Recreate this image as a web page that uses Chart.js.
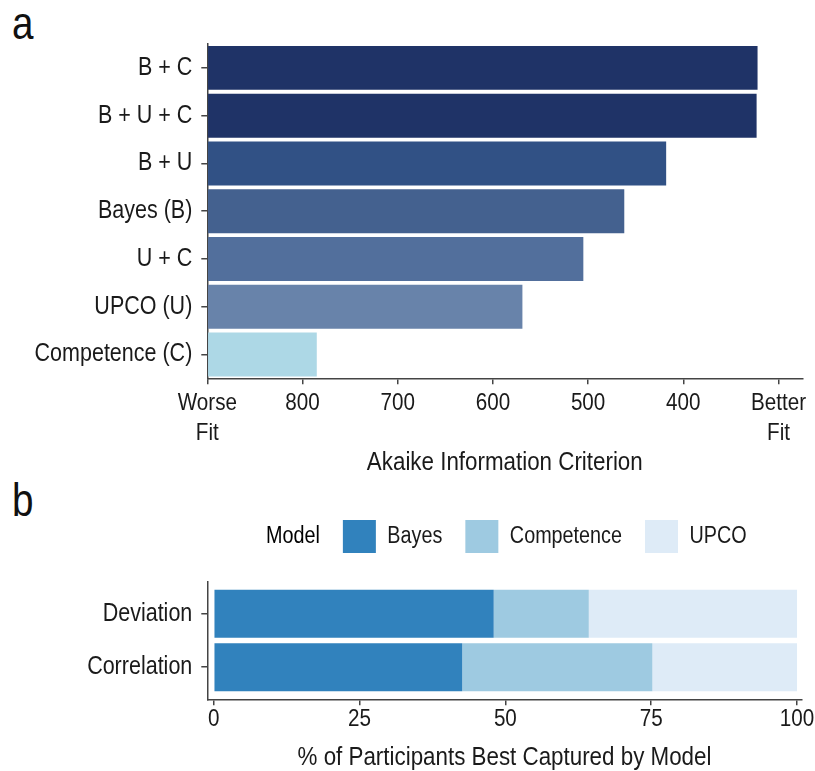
<!DOCTYPE html>
<html>
<head>
<meta charset="utf-8">
<script src="https://cdn.jsdelivr.net/npm/chart.js@4.4.1/dist/chart.umd.min.js"></script>
<style>
  html, body { margin: 0; padding: 0; background: #fff; }
  #page { position: relative; width: 815px; height: 771px; overflow: hidden; }
  .panel-letter {
    position: absolute; left: 12px; margin: 0;
    font-family: 'Liberation Sans', sans-serif;
    font-size: 46px; line-height: 46px; color: #111;
    transform: scaleX(0.84); transform-origin: left top;
  }
  canvas { position: absolute; left: 0; }
</style>
</head>
<body>
<div id="page">
  <div class="panel-letter" style="top:0px">a</div>
  <div class="panel-letter" style="top:477px">b</div>
  <canvas id="aicChart" width="815" height="480" style="top:0"></canvas>
  <canvas id="shareChart" width="815" height="295" style="top:476px"></canvas>
</div>
<script>
// Panel a: model fits (AIC, lower is better)
var aicModels = ['B + C', 'B + U + C', 'B + U', 'Bayes (B)', 'U + C', 'UPCO (U)', 'Competence (C)'];
var aicValues = [322, 323, 418, 462, 505, 569, 785];
var aicColors = ['#1f3367', '#1f3367', '#315185', '#44618f', '#526f9c', '#6883aa', '#add8e6'];
var aicTicks = [900, 800, 700, 600, 500, 400, 300];
var aicTickLabels = [['Worse', 'Fit'], '800', '700', '600', '500', '400', ['Better', 'Fit']];

// Panel b: share of participants best captured by each model
var measures = ['Deviation', 'Correlation'];
var bayesShare = [48.0, 42.6];
var competenceShare = [16.3, 32.6];
var upcoShare = [35.7, 24.8];
var shareTicks = [0, 25, 50, 75, 100];

var FONT = "'Liberation Sans', sans-serif";
var TEXT = '#1a1a1a';
var AXIS = '#444444';
var NARROW = 0.86;

Chart.defaults.font.family = FONT;
Chart.defaults.color = TEXT;
Chart.defaults.animation = false;

// no condensed face is installed, so squeeze the canvas text horizontally
// (measureText is scaled too, so Chart.js lays the labels out with the narrow widths)
function condensedContext(canvas, k) {
    var ctx = canvas.getContext('2d');
    var fill = ctx.fillText;
    var measure = ctx.measureText;
    ctx.fillText = function(text, x, y, maxWidth) {
        this.save();
        this.translate(x, y);
        this.scale(k, 1);
        if (maxWidth === undefined) {
            fill.call(this, text, 0, 0);
        } else {
            fill.call(this, text, 0, 0, maxWidth / k);
        }
        this.restore();
    };
    ctx.measureText = function(text) {
        var m = measure.call(this, text);
        return {
            width: m.width * k,
            actualBoundingBoxLeft: m.actualBoundingBoxLeft * k,
            actualBoundingBoxRight: m.actualBoundingBoxRight * k,
            actualBoundingBoxAscent: m.actualBoundingBoxAscent,
            actualBoundingBoxDescent: m.actualBoundingBoxDescent
        };
    };
    return ctx;
}

function axisLines(extra) {
    var o = {
        grid: { display: true, drawOnChartArea: false, drawTicks: true, tickLength: 6,
                color: AXIS, lineWidth: 1.5, offset: false },
        border: { display: true, color: AXIS, width: 1.5 }
    };
    for (var k in extra) o[k] = extra[k];
    return o;
}

/* a */
new Chart(condensedContext(document.getElementById('aicChart'), NARROW), {
    type: 'bar',
    data: {
        labels: aicModels,
        datasets: [{
            data: aicValues,
            base: aicTicks[0],
            backgroundColor: aicColors,
            borderWidth: 0,
            barPercentage: 0.921,
            categoryPercentage: 1.0
        }]
    },
    options: {
        indexAxis: 'y',
        responsive: false,
        layout: { padding: { top: 44, right: 12.7, left: 0, bottom: 0 } },
        plugins: { legend: { display: false } },
        scales: {
            x: axisLines({
                type: 'linear',
                min: 275,
                max: 900,
                reverse: true,
                afterBuildTicks: function(scale) {
                    scale.ticks = aicTicks.map(function(v) { return { value: v }; });
                },
                afterFit: function(scale) { scale.height = 101.7; },
                ticks: {
                    padding: 4,
                    font: { size: 24, lineHeight: 1.24 },
                    color: TEXT,
                    maxRotation: 0,
                    callback: function(value) {
                        return aicTickLabels[aicTicks.indexOf(value)];
                    }
                },
                title: {
                    display: true,
                    text: 'Akaike Information Criterion',
                    font: { size: 26, lineHeight: 1.2 },
                    color: TEXT,
                    padding: { top: 0, bottom: 2 }
                }
            }),
            y: axisLines({
                afterFit: function(scale) { scale.width = 207.3; },
                ticks: { padding: 9, font: { size: 25 }, color: TEXT }
            })
        }
    }
});

/* b */
var modelTitle = { text: 'Model', fillStyle: 'rgba(0,0,0,0)', strokeStyle: 'rgba(0,0,0,0)',
                   lineWidth: 0, hidden: false, datasetIndex: -1 };
var legendStart = 221.5;

// rows sit at 1, 2 on a numeric axis so the padding above/below them can be set
function rowPoints(values) {
    return values.map(function(v, i) { return { x: v, y: i + 1 }; });
}

new Chart(condensedContext(document.getElementById('shareChart'), NARROW), {
    type: 'bar',
    data: {
        datasets: [
            { label: 'Bayes', data: rowPoints(bayesShare), backgroundColor: '#3182bd' },
            { label: 'Competence', data: rowPoints(competenceShare), backgroundColor: '#9ecae1' },
            { label: 'UPCO', data: rowPoints(upcoShare), backgroundColor: '#deebf7' }
        ].map(function(ds) {
            ds.borderWidth = 0;
            ds.barPercentage = 0.9;
            ds.categoryPercentage = 1.0;
            return ds;
        })
    },
    options: {
        indexAxis: 'y',
        responsive: false,
        layout: { padding: { top: 21, right: 13.3, left: 0, bottom: 0 } },
        plugins: {
            legend: {
                position: 'top',
                align: 'start',
                labels: {
                    boxWidth: 33,
                    boxHeight: 33,
                    padding: 23,
                    color: TEXT,
                    font: { size: 23 },
                    generateLabels: function(chart) {
                        var items = Chart.defaults.plugins.legend.labels.generateLabels(chart);
                        return [modelTitle].concat(items);
                    }
                },
                onClick: function(e, item, legend) {
                    if (item.datasetIndex < 0) return;
                    Chart.defaults.plugins.legend.onClick.call(this, e, item, legend);
                }
            },
            tooltip: {
                callbacks: {
                    title: function(items) { return measures[items[0].parsed.y - 1]; }
                }
            }
        },
        scales: {
            x: axisLines({
                type: 'linear',
                stacked: true,
                min: -1.1,
                max: 100.8,
                afterBuildTicks: function(scale) {
                    scale.ticks = shareTicks.map(function(v) { return { value: v }; });
                },
                afterFit: function(scale) { scale.height = 71.7; },
                ticks: { padding: 0, font: { size: 24, lineHeight: 1.2 }, color: TEXT, maxRotation: 0 },
                title: {
                    display: true,
                    text: '% of Participants Best Captured by Model',
                    font: { size: 26, lineHeight: 1.05 },
                    color: TEXT,
                    padding: { top: 0, bottom: 0 }
                }
            }),
            y: axisLines({
                type: 'linear',
                stacked: true,
                offset: false,
                reverse: true,
                min: 0.4,
                max: measures.length + 0.6,
                afterBuildTicks: function(scale) {
                    scale.ticks = measures.map(function(m, i) { return { value: i + 1 }; });
                },
                afterFit: function(scale) { scale.width = 207.3; },
                ticks: {
                    padding: 9,
                    font: { size: 25 },
                    color: TEXT,
                    callback: function(value) { return measures[value - 1]; }
                }
            })
        }
    },
    plugins: [{
        id: 'legendRow',
        afterInit: function(chart) {
            // leave room between the key and the bars
            var fit = chart.legend.fit;
            chart.legend.fit = function() {
                fit.call(this);
                this.height += 18.7;
            };
        },
        afterLayout: function(chart) {
            // key row starts over the bars rather than at the canvas edge
            var lg = chart.legend;
            lg.left = legendStart - lg.options.labels.padding;
        }
    }]
});
</script>
</body>
</html>
